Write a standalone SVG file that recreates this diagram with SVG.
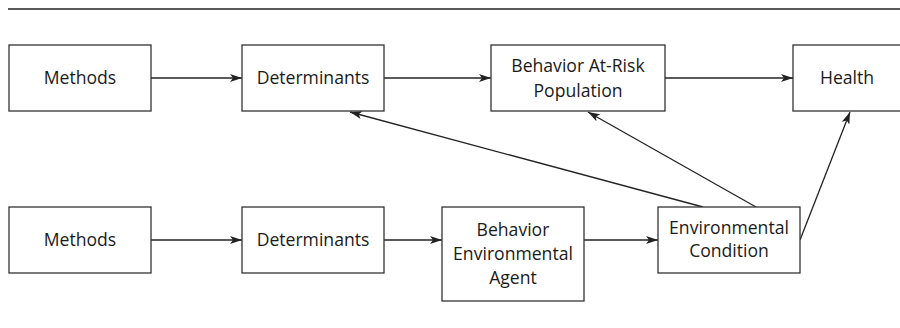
<svg xmlns="http://www.w3.org/2000/svg" width="900" height="328" viewBox="0 0 900 328">
  <style>
    .box { fill: #fff; stroke: #333; stroke-width: 1.3; }
    .lbl { font-family: "Open Sans", "Liberation Sans", sans-serif; font-size: 17.6px; fill: #1a1a1a; text-anchor: middle; }
    .edge { fill: none; stroke: #222; stroke-width: 1.3; marker-end: url(#arrow); }
  </style>
  <defs>
    <marker id="arrow" viewBox="0 0 12 8" refX="12" refY="4" markerWidth="12" markerHeight="8" markerUnits="userSpaceOnUse" orient="auto">
      <path d="M0,0 L12,4 L0,8 L3,4 Z" fill="#222"/>
    </marker>
  </defs>
  <rect width="900" height="328" fill="#fff"/>
  <line x1="8" y1="9" x2="900" y2="9" stroke="#222" stroke-width="1.3"/>

  <g id="connectors">
    <line class="edge" x1="151" y1="78" x2="242" y2="78"/>
    <line class="edge" x1="384" y1="78" x2="491" y2="78"/>
    <line class="edge" x1="665" y1="78" x2="793" y2="78"/>
    <line class="edge" x1="151" y1="240" x2="242" y2="240"/>
    <line class="edge" x1="384" y1="240" x2="442" y2="240"/>
    <line class="edge" x1="584" y1="240" x2="658" y2="240"/>
    <line class="edge" x1="703" y1="207" x2="350" y2="112"/>
    <line class="edge" x1="756" y1="207" x2="588" y2="112"/>
    <line class="edge" x1="800" y1="240" x2="850" y2="112"/>
  </g>

  <g id="methods-top">
    <rect class="box" x="9" y="45" width="142" height="66"/>
    <text class="lbl" x="80" y="84">Methods</text>
  </g>
  <g id="determinants-top">
    <rect class="box" x="242" y="45" width="142" height="66"/>
    <text class="lbl" x="313" y="84">Determinants</text>
  </g>
  <g id="behavior-at-risk">
    <rect class="box" x="491" y="45" width="174" height="66"/>
    <text class="lbl" x="578" y="72">Behavior At-Risk</text>
    <text class="lbl" x="578" y="97">Population</text>
  </g>
  <g id="health">
    <rect class="box" x="793" y="45" width="110" height="66"/>
    <text class="lbl" x="847" y="84">Health</text>
  </g>

  <g id="methods-bottom">
    <rect class="box" x="9" y="207" width="142" height="66"/>
    <text class="lbl" x="80" y="246">Methods</text>
  </g>
  <g id="determinants-bottom">
    <rect class="box" x="242" y="207" width="142" height="66"/>
    <text class="lbl" x="313" y="246">Determinants</text>
  </g>
  <g id="behavior-env-agent">
    <rect class="box" x="442" y="207" width="142" height="94"/>
    <text class="lbl" x="513" y="236">Behavior</text>
    <text class="lbl" x="513" y="260">Environmental</text>
    <text class="lbl" x="513" y="284">Agent</text>
  </g>
  <g id="env-condition">
    <rect class="box" x="658" y="207" width="142" height="66"/>
    <text class="lbl" x="729" y="234">Environmental</text>
    <text class="lbl" x="729" y="257">Condition</text>
  </g>
</svg>
